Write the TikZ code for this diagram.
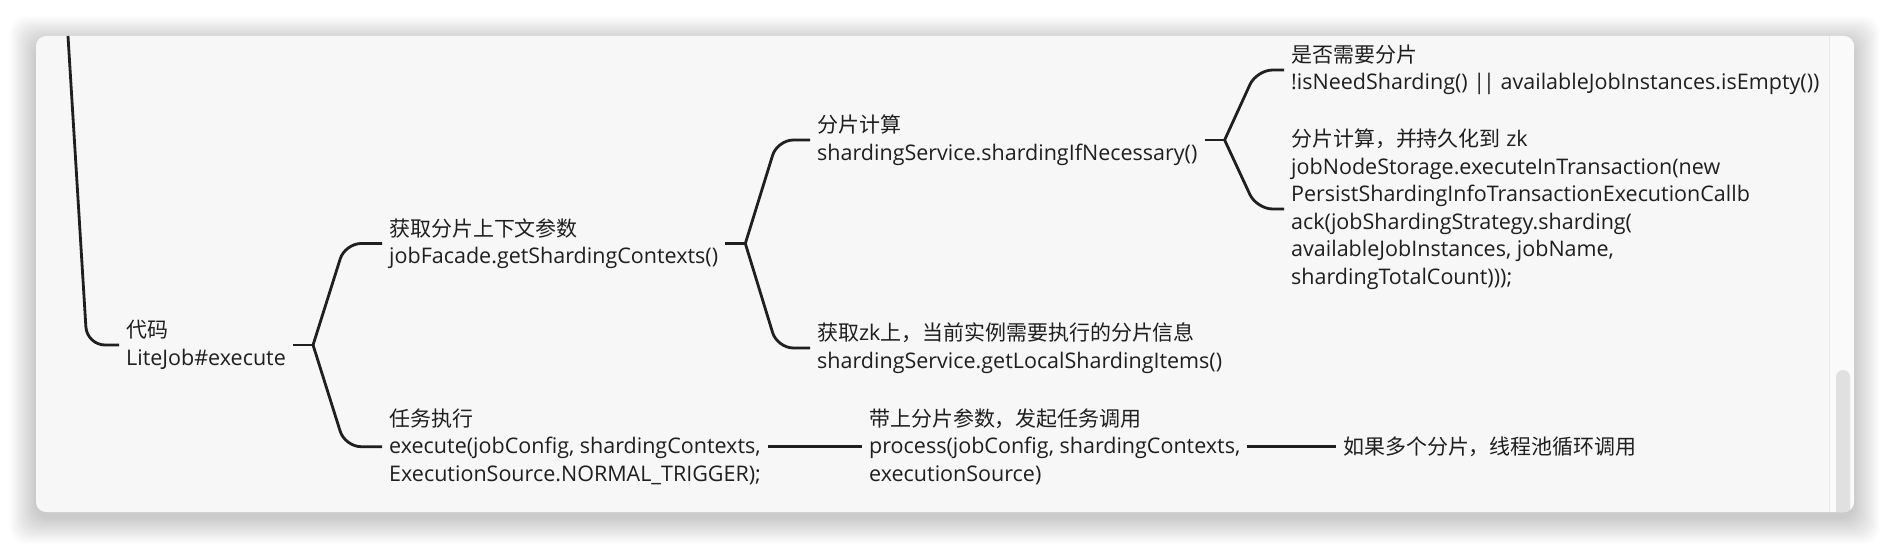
\documentclass[tikz,border=0pt]{standalone}
\usepackage{fontspec}
\setmainfont{Open Sans}
\newfontfamily\cjk{Noto Sans CJK SC}[Scale=0.975]
\usepackage{tikz}
\usetikzlibrary{calc}

\definecolor{cardbg}{HTML}{F7F7F7}
\definecolor{ink}{HTML}{1F1F1F}
\definecolor{thumbgray}{HTML}{E0E0E0}
\definecolor{trackgray}{HTML}{E8E8E8}

\tikzset{
  topic/.style={anchor=west, inner xsep=7pt, inner ysep=0pt, align=left,
    text=ink, font=\fontsize{21.5}{27.5}\selectfont},
  link/.style={draw=ink, line width=2.8pt},
  fork/.style={link, rounded corners=16pt,
    to path={-- ([xshift=32pt]\tikztostart |- \tikztotarget) -- (\tikztotarget)}},
}

\begin{document}
\begin{tikzpicture}[x=1pt, y=-1pt]
    \useasboundingbox (0,0) rectangle (1890,548);
    \fill[white] (0,0) rectangle (1890,548);
    % soft shadow round the card
    \foreach \k in {1,...,26}
        \fill[black, opacity=0.0075, rounded corners=16pt] (36-\k,42-\k) rectangle (1854+\k,518+\k);
    \fill[cardbg, rounded corners=10pt] (36,36) rectangle (1854,512);
    % scroll bar
    \begin{scope}
        \clip[rounded corners=10pt] (36,36) rectangle (1854,512);
        \fill[white, opacity=0.4] (1829,36) rectangle (1854,512);
        \draw[trackgray, line width=1pt] (1829,36) -- (1829,512);
        \fill[thumbgray, rounded corners=7pt] (1836,370) rectangle (1850,540);
    \end{scope}

    \node[topic] (code) at (119,345) {{\cjk 代码}\\LiteJob\#execute};
    \node[topic] (ctx) at (382,243.5) {{\cjk 获取分片上下文参数}\\jobFacade.getShardingContexts()};
    \node[topic] (exec) at (382,446.7) {{\cjk 任务执行}\\execute(jobConfig, shardingContexts,\\ExecutionSource.NORMAL\_TRIGGER);};
    \node[topic] (calc) at (810,140) {{\cjk 分片计算}\\shardingService.shardingIfNecessary()};
    \node[topic] (local) at (810,348) {{\cjk 获取}zk{\cjk 上，当前实例需要执行的分片信息}\\shardingService.getLocalShardingItems()};
    \node[topic] (need) at (1284,70) {{\cjk 是否需要分片}\\!isNeedSharding() |\kern-2pt| availableJobInstances.isEmpty())};
    \node[topic] (persist) at (1284,209) {{\cjk 分片计算，并持久化到} zk\\jobNodeStorage.executeInTransaction(new\\PersistShardingInfoTransactionExecutionCallb\\ack(jobShardingStrategy.sharding(\\availableJobInstances, jobName,\\shardingTotalCount)));};
    \node[topic] (proc) at (862,446.7) {{\cjk 带上分片参数，发起任务调用}\\process(jobConfig, shardingContexts,\\executionSource)};
    \node[topic] (loop) at (1336,446.7) {{\cjk 如果多个分片，线程池循环调用}};

    % branches
    \coordinate (up) at (68,36);
    \draw[link, rounded corners=18pt] (up) -- ([xshift=19pt]up |- code.west) -- (code.west);
    \draw[link] (code.east) -- ++(20,0) coordinate (j1);
    \draw[fork] (j1) to (ctx.west) (j1) to (exec.west);
    \draw[link] (ctx.east) -- ++(20,0) coordinate (j2);
    \draw[fork] (j2) to (calc.west) (j2) to (local.west);
    \draw[link] (calc.east) -- ++(20,0) coordinate (j3);
    \draw[fork] (j3) to (need.west) (j3) to (persist.west);
    \draw[link] (exec.east) -- (proc.west);
    \draw[link] (proc.east) -- (loop.west);
\end{tikzpicture}
\end{document}
